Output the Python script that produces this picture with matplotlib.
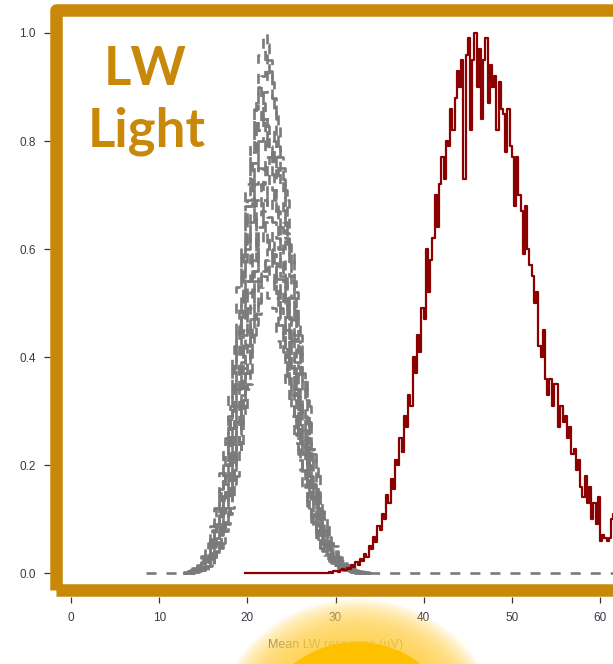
import numpy as np
import matplotlib
matplotlib.use('Agg')
import matplotlib.pyplot as plt
from matplotlib.patches import Rectangle, Circle

gold = '#C8880A'

# null (shuffled) distributions, bins of 0.5 uV
null_starts = [12.75, 12.75, 12.75, 12.75, 12.75, 12.75, 12.75, 12.75, 12.75, 12.75,
               13.0, 13.0, 13.0, 13.0, 13.0, 13.0, 13.0]
null_step = 0.5
null_curves = [
    [0, .003, .006, .012, .02, .033, .062, .09, .145, .2, .27, .38, .46, .59, .68, .8, .87, .96, 1.0, .93,
     .88, .79, .73, .62, .55, .44, .38, .29, .24, .16, .12, .08, .06, .04, .03, .018, .012, .007, .004, .002, 0, 0],
    [0, 0, .003, .007, .01, .02, .03, .058, .085, .14, .185, .27, .34, .46, .54, .67, .74, .85, .89, .95,
     .88, .84, .75, .69, .59, .52, .42, .36, .28, .22, .15, .115, .08, .055, .04, .026, .018, .01, .007, .004, .002, 0],
    [.003, .005, .01, .017, .032, .05, .088, .12, .185, .24, .34, .41, .53, .61, .72, .78, .86, .9, .84, .79,
     .71, .66, .56, .5, .39, .34, .26, .22, .14, .11, .075, .055, .035, .026, .015, .011, .006, .004, .002, 0, 0, 0],
    [0, .003, .006, .008, .018, .028, .053, .078, .125, .165, .245, .3, .41, .48, .6, .66, .76, .8, .85, .79,
     .75, .67, .62, .53, .47, .37, .32, .25, .2, .14, .105, .07, .052, .033, .025, .014, .01, .006, .003, .002, 0, 0],
    [0, 0, 0, .002, .005, .009, .015, .03, .046, .078, .11, .165, .22, .31, .37, .47, .54, .64, .69, .77,
     .8, .74, .71, .63, .59, .49, .44, .35, .31, .23, .185, .13, .1, .065, .05, .03, .023, .013, .01, .006, .003, .002],
    [.002, .004, .008, .014, .027, .043, .074, .1, .155, .2, .29, .34, .44, .51, .6, .65, .72, .75, .69, .66,
     .59, .55, .46, .41, .33, .29, .22, .175, .125, .095, .06, .047, .028, .022, .012, .009, .005, .003, .0015, 0, 0, 0],
    [0, 0, .002, .004, .008, .013, .026, .04, .07, .095, .145, .19, .27, .32, .42, .47, .56, .61, .67, .7,
     .65, .62, .55, .51, .43, .39, .31, .265, .2, .165, .115, .088, .057, .044, .027, .02, .012, .008, .005, .003, .0014, 0],
    [0, .002, .004, .007, .012, .024, .037, .065, .088, .135, .175, .245, .3, .39, .44, .52, .56, .63, .65, .6,
     .57, .51, .48, .4, .36, .28, .245, .19, .155, .105, .08, .053, .04, .025, .019, .011, .008, .0045, .0026, .0013, 0, 0],
    [0, 0, .002, .004, .006, .013, .02, .038, .055, .087, .115, .172, .215, .29, .34, .42, .46, .54, .56, .6,
     .56, .53, .47, .44, .37, .33, .26, .225, .175, .145, .095, .075, .048, .037, .023, .017, .01, .007, .004, .0024, .0012, 0],
    [0, .0017, .0033, .006, .01, .02, .031, .054, .075, .115, .15, .205, .255, .33, .37, .44, .47, .53, .55, .51,
     .49, .43, .41, .34, .31, .24, .21, .16, .13, .09, .068, .045, .034, .021, .015, .01, .0066, .004, .0022, .0011, 0, 0],
    [0, .002, .007, .009, .022, .032, .062, .088, .142, .19, .285, .35, .475, .56, .69, .76, .875, .92, .98, .91,
     .86, .77, .71, .61, .54, .43, .37, .285, .23, .16, .12, .08, .06, .038, .028, .017, .012, .007, .004, .002, 0, 0],
    [.002, .006, .008, .018, .028, .055, .08, .127, .168, .25, .31, .42, .49, .61, .68, .78, .82, .87, .81, .77,
     .69, .64, .54, .48, .38, .33, .25, .205, .14, .108, .07, .054, .033, .025, .015, .01, .006, .003, .002, 0, 0, 0],
    [0, 0, .003, .004, .009, .016, .031, .047, .083, .11, .172, .225, .315, .38, .49, .56, .67, .72, .8, .83,
     .77, .73, .65, .61, .51, .46, .36, .32, .24, .195, .135, .105, .067, .052, .032, .024, .014, .01, .006, .003, .0017, 0],
    [0, .002, .005, .007, .016, .026, .048, .07, .112, .15, .222, .28, .37, .44, .54, .6, .69, .72, .77, .71,
     .68, .6, .56, .475, .42, .34, .29, .225, .18, .125, .095, .062, .047, .03, .022, .013, .009, .005, .003, .0015, 0, 0],
    [.002, .004, .007, .012, .024, .038, .066, .09, .138, .182, .255, .31, .4, .45, .54, .58, .65, .67, .62, .59,
     .53, .49, .41, .37, .29, .255, .19, .16, .11, .083, .055, .041, .026, .019, .012, .008, .0047, .0027, .0013, 0, 0, 0],
    [0, 0, .002, .004, .006, .013, .02, .039, .056, .09, .12, .18, .225, .3, .35, .44, .48, .555, .58, .62,
     .575, .545, .49, .45, .38, .34, .27, .235, .18, .148, .1, .077, .05, .038, .024, .017, .011, .0074, .0043, .0025, .0012, 0],
    [0, .0017, .0035, .006, .011, .021, .033, .057, .078, .12, .158, .22, .265, .345, .39, .47, .5, .56, .58, .54,
     .51, .455, .425, .355, .32, .25, .22, .168, .138, .095, .072, .047, .036, .022, .016, .01, .007, .004, .0023, .0012, 0, 0],
]
null_from = 8.5
null_to = 63.0

# observed distribution, bins of 0.25 uV starting at 19.75
red_start = 19.75
red_step = 0.25
red_vals = [0,
    0, 0, 0, 0,  0, 0, 0, 0,  0, 0, 0, 0,  0, 0, 0, 0,  0, 0, 0, 0,
    0, 0, 0, 0,  0, 0, 0, 0,  0, 0, 0, 0,  0, 0, 0, 0,  0, .002, 0, .003,
    .004, .002, .006, .008,  .005, .01, .008, .014,  .012, .02, .015, .026,  .022, .035, .03, .05,
    .045, .066, .058, .088,  .08, .11, .1, .145,  .13, .175, .155, .21,  .2, .25, .225, .29,
    .27, .33, .31, .4,  .37, .44, .41, .49,  .47, .6, .52, .58,  .62, .7, .64, .72,
    .77, .73, .8, .79,  .86, .82, .88, .93,  .9, .95, .73, .96,  .99, .82, .95, 1.0,
    .9, .97, .84, .95,  .99, .87, .94, .9,  .92, .82, .91, .86,  .85, .78, .86, .79,
    .77, .68, .77, .7,  .67, .59, .68, .6,  .57, .55, .5, .52,  .42, .4, .45, .36,
    .33, .36, .31, .35,  .35, .27, .31, .28,  .29, .25, .27, .22,  .23, .19, .21, .16,
    .14, .18, .13, .16,  .1, .13, .09, .14,  .06, .07, .065, .06,  .065, .1, .11, .12,
    .1, .1, .1, .1]

xticks = [0, 10, 20, 30, 40, 50, 60]
yticks = [0.0, 0.2, 0.4, 0.6, 0.8, 1.0]

fig = plt.figure(figsize=(6.13, 6.64), dpi=100)
ax = fig.add_axes([49.5 / 613, 67 / 664, 650.5 / 613, 597 / 664])

for i, vals in enumerate(null_curves):
    x = list(null_starts[i] + null_step * np.arange(len(vals)))
    xs = x + [x[-1] + null_step]
    ys = list(vals) + [0]
    if i == 0:
        xs = [null_from] + xs + [null_to]
        ys = [0] + ys + [0]
    ax.plot(xs, ys, drawstyle='steps-post', color='#7A7A7A', lw=1.9,
            linestyle=((i * 1.9) % 7.6, (3.8, 3.8)))

xr = list(red_start + red_step * np.arange(len(red_vals)))
ax.plot(xr + [xr[-1] + red_step], list(red_vals) + [red_vals[-1]],
        drawstyle='steps-post', color='#8B0000', lw=1.6)

ax.set_xlim(-2.44, 71.34)
ax.set_ylim(-0.0444, 1.0611)
for s in ax.spines.values():
    s.set_visible(False)
ax.set_xticks(xticks)
ax.set_yticks(yticks)
ax.set_yticklabels(['%.1f' % v for v in yticks])
ax.tick_params(direction='out', length=4.3, width=0.9, color='#333333',
               labelsize=8.5, labelcolor='#3a3a4a')
ax.tick_params(axis='y', pad=5.4)
ax.tick_params(axis='x', pad=6.5)
for lab in ax.get_xticklabels() + ax.get_yticklabels():
    lab.set_fontfamily('Liberation Sans')

# gold frame
frame = Rectangle((56 / 613, (664 - 589.5) / 664), (720 - 56) / 613, 580 / 664,
                  transform=fig.transFigure, fill=False, ec=gold, lw=9,
                  joinstyle='round', zorder=5)
fig.add_artist(frame)

fig.text(145 / 613, 1 - 85 / 664, 'LW', ha='center', va='baseline', color=gold,
         fontsize=38, fontweight='bold', family='Lato')
fig.text(147 / 613, 1 - 147 / 664, 'Light', ha='center', va='baseline', color=gold,
         fontsize=38, fontweight='bold', family='Lato')

fig.text(335 / 613, 1 - 645 / 664, 'Mean LW response (µV)', ha='center', va='center',
         color='#555555', fontsize=9, family='Liberation Sans')

# yellow glow at the bottom
ov = fig.add_axes([0, 0, 1, 1], zorder=10)
ov.set_xlim(0, 613)
ov.set_ylim(664, 0)
ov.axis('off')
ov.patch.set_alpha(0)
for r in np.arange(146, 103, -3):
    ov.add_patch(Circle((357, 745), r, color='#FFD34D', alpha=0.14, lw=0))
ov.add_patch(Circle((357, 745), 103, color='#FFC000', lw=0))

fig.savefig('out.png', dpi=100)
